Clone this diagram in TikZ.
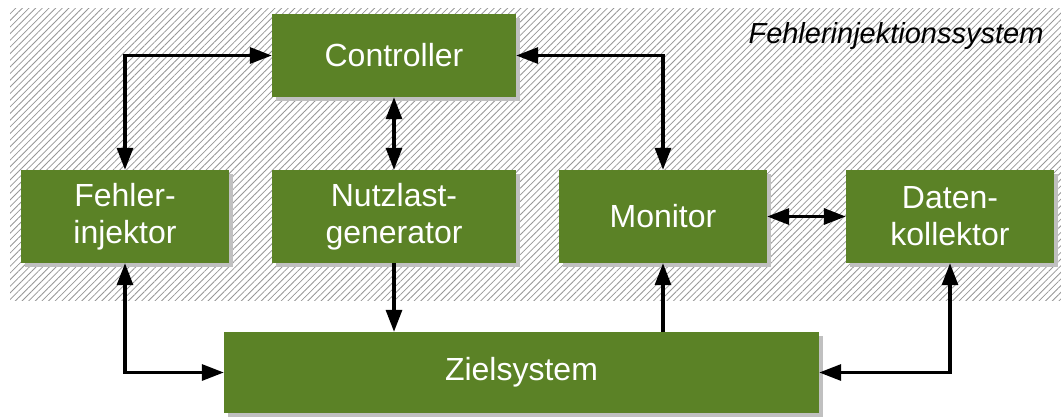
\documentclass[tikz,border=0pt]{standalone}
\usepackage{fontspec}
\setmainfont{Liberation Sans}
\usetikzlibrary{arrows.meta,shadows,patterns.meta}
\definecolor{boxgreen}{RGB}{91,130,38}
\definecolor{shadowgray}{RGB}{192,192,192}
\definecolor{hatchgray}{RGB}{150,150,150}
\tikzset{
  box/.style={fill=boxgreen, text=white, align=center, inner sep=0pt,
    font=\fontsize{32}{37}\selectfont,
    drop shadow={shadow xshift=4pt, shadow yshift=-4pt, fill=shadowgray, opacity=1}},
  conn/.style={line width=3.2pt, draw=black},
  tip/.tip={Triangle[length=22pt,width=16pt]},
}
\begin{document}
\begin{tikzpicture}[x=1pt,y=-1pt]
\useasboundingbox (0,0) rectangle (1061,416);
\fill[pattern={Lines[angle=45,distance=4.7pt,line width=0.8pt]}, pattern color=hatchgray] (10,8) rectangle (1061,300);
\node[anchor=base east, font=\fontsize{29}{34}\selectfont\itshape] (lbl) at (1047,43) {Fehlerinjektionssystem};

\node[box, minimum width=244pt, minimum height=83pt] (ctrl) at (394,55.5) {Controller};
\node[box, minimum width=208pt, minimum height=93pt] (fi) at (125,216.5) {Fehler-\\injektor};
\node[box, minimum width=244pt, minimum height=93pt] (ng) at (394,216.5) {Nutzlast-\\generator};
\node[box, minimum width=208pt, minimum height=93pt] (mon) at (663,216.5) {Monitor};
\node[box, minimum width=208pt, minimum height=93pt] (dk) at (950,216.5) {Daten-\\kollektor};
\node[box, minimum width=595pt, minimum height=81pt] (ziel) at (521.5,372.5) {Zielsystem};

\draw[conn, tip-tip] (ctrl.west) -| (fi.north);
\draw[conn, tip-tip] (ctrl.south) -- (ng.north);
\draw[conn, tip-tip] (ctrl.east) -| (mon.north);
\draw[conn, tip-tip] (mon.east) -- (dk.west);
\draw[conn, tip-tip] (fi.south) |- (ziel.west);
\draw[conn, -tip] (ng.south) -- (ng.south |- ziel.north);
\draw[conn, -tip] (ziel.north -| mon.south) -- (mon.south);
\draw[conn, tip-tip] (dk.south) |- (ziel.east);
\end{tikzpicture}
\end{document}
